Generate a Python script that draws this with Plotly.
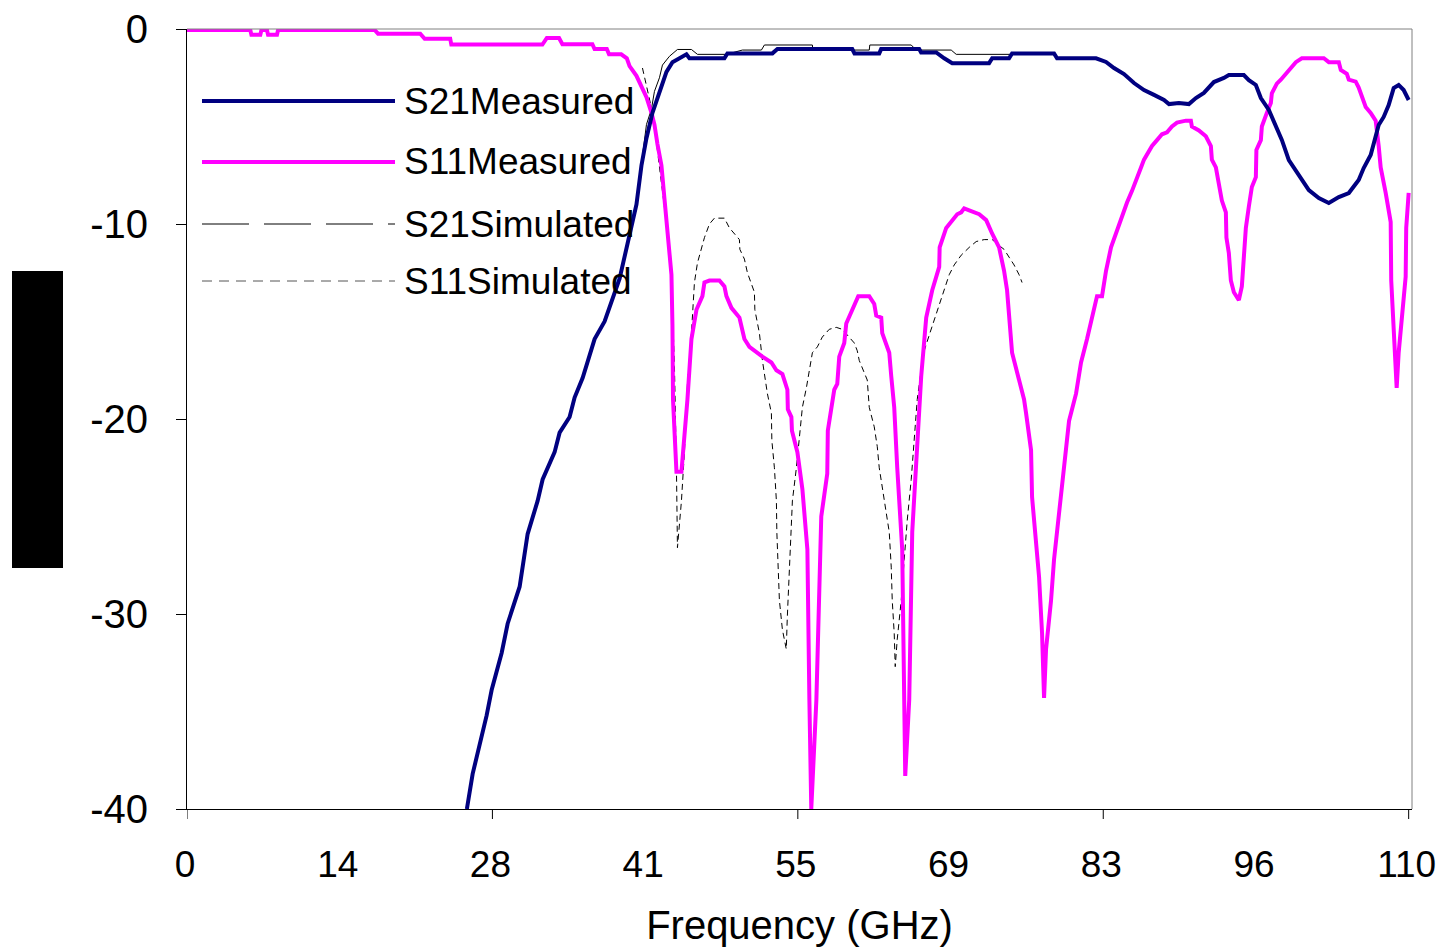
import plotly.graph_objects as go

# ---------------- data ----------------
TICK_LABELS = ["0", "14", "28", "41", "55", "69", "83", "96", "110"]
X_MAX = 110
Y_TICKS = [0, -10, -20, -30, -40]

S21_MEAS_F = [25.2, 25.72, 26.98, 27.43, 28.33, 28.87, 29.95, 30.67, 31.57, 32.02,
              33.10, 33.55, 34.45, 34.90, 35.62, 36.70, 37.60, 38.23, 38.95, 39.67,
              40.47, 40.92, 41.37, 41.91, 42.54, 43.17, 43.71, 44.52, 44.97, 45.24,
              48.39, 48.66, 52.71, 53.16, 59.90, 60.10, 62.33, 62.50, 65.93, 66.10,
              67.46, 68.18, 68.90, 72.22, 72.50, 74.02, 74.29, 78.07, 78.34, 81.85,
              82.75, 83.47, 84.37, 85.27, 86.17, 87.07, 87.97, 88.42, 89.31, 90.21,
              90.84, 91.56, 92.46, 93.36, 93.81, 95.16, 95.61, 96.24, 96.69, 97.41,
              98.04, 98.58, 99.21, 100.11, 101.01, 101.91, 102.81, 103.71, 104.61, 105.50,
              105.95, 106.58, 107.30, 107.75, 108.20, 108.65, 109.10, 109.55, 110.0]
S21_MEAS_DB = [-40.0, -38.2, -35.2, -33.9, -32.0, -30.5, -28.6, -25.9, -24.2, -23.1,
               -21.7, -20.7, -19.9, -18.9, -17.9, -15.9, -15.0, -14.0, -12.8, -11.0,
               -9.0, -7.0, -5.6, -4.3, -3.2, -2.2, -1.7, -1.44, -1.3, -1.5,
               -1.5, -1.25, -1.25, -1.03, -1.03, -1.25, -1.25, -1.03, -1.03, -1.2,
               -1.2, -1.5, -1.75, -1.75, -1.5, -1.5, -1.25, -1.25, -1.5, -1.5,
               -1.69, -2.0, -2.31, -2.77, -3.13, -3.38, -3.64, -3.85, -3.79, -3.85,
               -3.54, -3.28, -2.72, -2.51, -2.36, -2.36, -2.62, -2.87, -3.54, -4.15,
               -5.03, -5.69, -6.72, -7.49, -8.26, -8.67, -8.92, -8.62, -8.41, -7.74,
               -7.13, -6.46, -4.92, -4.51, -3.90, -3.03, -2.87, -3.13, -3.64]

S11_MEAS_F = [0.0, 5.7, 5.8, 6.6, 6.7, 7.2, 7.3, 8.1, 8.2, 16.9,
              17.2, 21.0, 21.4, 23.7, 23.8, 32.0, 32.4, 33.5, 33.8, 36.5,
              36.7, 37.8, 38.0, 39.1, 39.6, 39.85, 40.47, 40.92, 41.37, 41.82,
              42.09, 42.36, 42.72, 42.99, 43.26, 43.62, 43.71, 43.76, 44.07, 44.52,
              45.06, 45.42, 45.87, 46.41, 46.59, 47.04, 47.94, 48.39, 48.57, 49.02,
              49.74, 50.19, 50.64, 51.27, 51.81, 52.62, 53.07, 53.61, 54.06, 54.10,
              54.42, 54.47, 54.96, 55.41, 55.86, 56.04, 56.21, 56.67, 57.11, 57.65,
              57.70, 58.28, 58.55, 58.73, 59.18, 59.36, 59.90, 60.35, 60.44, 61.43,
              61.88, 62.06, 62.51, 62.60, 63.23, 63.41, 63.68, 63.95, 64.40, 64.67,
              65.03, 65.30, 65.75, 66.11, 66.56, 67.10, 67.73, 67.77, 68.36, 68.90,
              69.35, 69.71, 69.98, 70.43, 70.88, 71.33, 71.96, 72.23, 72.50, 73.12,
              73.57, 73.84, 74.02, 74.29, 74.74, 75.37, 75.55, 76.00, 76.09, 76.27,
              76.72, 76.99, 77.17, 77.35, 77.80, 78.07, 78.52, 78.97, 79.42, 80.05,
              80.50, 81.04, 81.40, 81.94, 82.39, 82.75, 83.20, 83.74, 84.19, 84.64,
              85.09, 85.45, 85.90, 86.17, 86.44, 86.89, 87.34, 87.79, 88.24, 88.69,
              89.14, 89.94, 90.39, 90.48, 91.11, 91.74, 92.19, 92.28, 92.64, 92.91,
              93.18, 93.54, 93.59, 93.81, 93.99, 94.26, 94.71, 94.98, 95.16, 95.34,
              95.61, 95.88, 96.24, 96.29, 96.69, 96.78, 97.23, 97.59, 97.68, 98.13,
              98.49, 98.94, 99.48, 99.84, 100.38, 102.36, 102.81, 103.71, 103.89, 104.43,
              104.61, 105.23, 105.50, 105.77, 106.13, 106.58, 107.03, 107.30, 107.48, 107.93,
              108.38, 108.43, 108.65, 108.92, 109.10, 109.37, 109.73, 109.78, 110.0]
S11_MEAS_DB = [-0.05, -0.05, -0.3, -0.3, -0.05, -0.05, -0.3, -0.3, -0.05, -0.05,
               -0.24, -0.24, -0.5, -0.5, -0.8, -0.8, -0.46, -0.46, -0.78, -0.78,
               -1.03, -1.03, -1.3, -1.3, -1.5, -1.9, -2.4, -2.9, -3.5, -4.3,
               -4.9, -5.9, -7.0, -8.7, -10.4, -12.6, -15.2, -19.0, -22.7, -22.7,
               -19.0, -15.9, -14.4, -13.7, -13.0, -12.9, -12.9, -13.2, -13.7, -14.3,
               -14.8, -15.9, -16.3, -16.6, -16.8, -17.1, -17.5, -17.7, -18.5, -19.5,
               -19.9, -20.6, -21.7, -23.6, -26.7, -34.4, -40.0, -34.4, -25.0, -22.8,
               -20.6, -18.5, -18.2, -16.8, -16.1, -15.1, -14.4, -13.9, -13.7, -13.7,
               -14.1, -14.7, -14.8, -15.6, -16.6, -17.8, -19.4, -22.5, -26.7, -38.3,
               -34.4, -25.8, -21.6, -17.8, -14.8, -13.4, -12.2, -11.2, -10.2, -9.8,
               -9.5, -9.4, -9.2, -9.3, -9.4, -9.5, -9.8, -10.2, -10.5, -11.2,
               -12.4, -13.4, -14.9, -16.6, -17.6, -19.0, -19.7, -21.6, -24.0, -25.3,
               -28.1, -31.0, -34.3, -31.8, -29.3, -27.2, -24.7, -22.6, -20.1, -18.7,
               -17.1, -15.9, -15.0, -13.7, -13.7, -12.4, -11.2, -10.3, -9.6, -8.9,
               -8.3, -7.7, -7.1, -6.7, -6.4, -6.0, -5.7, -5.4, -5.3, -5.0,
               -4.8, -4.7, -4.7, -5.0, -5.2, -5.5, -6.0, -6.7, -7.1, -8.1,
               -8.8, -9.4, -10.7, -11.5, -12.9, -13.5, -13.9, -13.2, -11.5, -10.2,
               -9.1, -8.1, -7.6, -6.2, -5.7, -5.0, -4.3, -3.8, -3.3, -2.8,
               -2.6, -2.3, -1.9, -1.7, -1.5, -1.5, -1.7, -1.7, -2.1, -2.3,
               -2.6, -2.7, -3.0, -3.4, -4.0, -4.3, -4.7, -6.0, -7.1, -8.4,
               -9.9, -12.9, -15.8, -18.4, -16.6, -14.9, -12.7, -10.2, -8.4]

S21_SIM_F = [41.01, 41.37, 41.82, 42.09, 42.54, 42.81, 43.44, 44.16, 45.42, 45.96,
             48.57, 50.01, 51.72, 51.99, 56.31, 56.35, 61.43, 61.48, 65.21, 65.66,
             68.81, 69.26, 75.37]
S21_SIM_DB = [-6.5, -4.9, -4.1, -3.2, -2.5, -1.85, -1.4, -1.05, -1.05, -1.3,
              -1.3, -1.08, -1.08, -0.82, -0.82, -1.08, -1.08, -0.82, -0.82, -1.08,
              -1.08, -1.3, -1.3]

S11_SIM_F = [41.01, 41.37, 41.82, 42.18, 42.54, 42.90, 43.26, 43.62, 43.89, 44.07,
             44.16, 44.52, 44.79, 45.06, 45.42, 45.69, 45.96, 46.59, 47.04, 47.49,
             48.39, 48.84, 49.74, 49.78, 50.19, 50.46, 51.09, 51.13, 51.54, 51.81,
             52.26, 52.62, 52.66, 52.89, 53.07, 53.11, 53.34, 53.61, 53.96, 54.05,
             54.42, 54.51, 54.87, 55.32, 55.41, 55.77, 56.04, 56.31, 56.76, 57.20,
             57.83, 58.46, 59.00, 59.63, 60.08, 60.35, 60.53, 61.25, 61.43, 61.88,
             62.15, 62.33, 62.78, 63.23, 63.41, 63.50, 63.68, 63.77, 63.95, 64.31,
             64.58, 64.85, 65.21, 65.48, 65.75, 66.11, 66.38, 66.83, 67.28, 67.73,
             68.18, 68.63, 69.08, 69.71, 70.43, 71.06, 71.78, 72.50, 73.12, 73.57,
             74.02, 74.47, 74.92, 75.19]
S11_SIM_DB = [-2.0, -2.9, -4.05, -5.4, -7.0, -8.8, -10.4, -12.7, -17.3, -22.5,
              -26.6, -24.2, -21.7, -18.2, -15.6, -13.0, -12.0, -10.7, -10.0, -9.7,
              -9.7, -10.2, -10.8, -11.3, -11.8, -12.5, -13.5, -14.4, -15.6, -17.0,
              -18.7, -19.7, -21.1, -22.5, -24.2, -25.8, -29.3, -30.8, -31.8, -30.2,
              -25.8, -24.2, -22.5, -19.9, -19.4, -18.4, -17.6, -16.6, -16.3, -15.8,
              -15.4, -15.3, -15.4, -15.8, -16.1, -16.5, -17.0, -18.0, -19.4, -20.4,
              -21.4, -22.5, -24.2, -25.8, -27.6, -29.3, -31.0, -32.7, -31.3, -29.3,
              -27.2, -25.2, -23.1, -21.1, -19.0, -17.5, -16.5, -15.7, -14.9, -14.2,
              -13.4, -12.6, -12.1, -11.6, -11.2, -10.9, -10.8, -10.8, -11.1, -11.3,
              -11.7, -12.1, -12.6, -13.0]

assert len(S21_MEAS_F) == len(S21_MEAS_DB)
assert len(S11_MEAS_F) == len(S11_MEAS_DB)
assert len(S21_SIM_F) == len(S21_SIM_DB)
assert len(S11_SIM_F) == len(S11_SIM_DB)

SERIES_NAMES = ["S21Measured", "S11Measured", "S21Simulated", "S11Simulated"]

# ---------------- styling ----------------
NAVY = "#000080"
MAGENTA = "#FF00FF"
FONT = "Arial, 'Liberation Sans', sans-serif"

# the page body adds an 8 px margin; the figure is shrunk so it fits the
# 1445x952 window, and the plot area sits at page pixels x 187..1412, y 29..809
PAGE_OFF = 8
WIN_W, WIN_H = 1445, 952
W, H = WIN_W - PAGE_OFF, WIN_H - PAGE_OFF
AREA_L, AREA_R, AREA_T, AREA_B = 187, 1412, 29, 809
L = AREA_L - PAGE_OFF
T = AREA_T - PAGE_OFF
R = W + PAGE_OFF - AREA_R
B = H + PAGE_OFF - AREA_B
PW, PH = AREA_R - AREA_L, AREA_B - AREA_T
X_RANGE = [0, X_MAX + 0.3]   # plot frame sits a few px right of the 110 tick


def px_x(p):
    return (p - AREA_L) / PW


def px_y(p):
    return (AREA_B - p) / PH


fig = go.Figure()
fig.add_trace(go.Scatter(x=S21_SIM_F, y=S21_SIM_DB, mode="lines", name=SERIES_NAMES[2],
                         line=dict(color="black", width=1), showlegend=False))
fig.add_trace(go.Scatter(x=S11_SIM_F, y=S11_SIM_DB, mode="lines", name=SERIES_NAMES[3],
                         line=dict(color="black", width=1, dash="6px,4px"), showlegend=False))
fig.add_trace(go.Scatter(x=S11_MEAS_F, y=S11_MEAS_DB, mode="lines", name=SERIES_NAMES[1],
                         line=dict(color=MAGENTA, width=4), showlegend=False))
fig.add_trace(go.Scatter(x=S21_MEAS_F, y=S21_MEAS_DB, mode="lines", name=SERIES_NAMES[0],
                         line=dict(color=NAVY, width=4), showlegend=False))

tickvals = [X_MAX * i / (len(TICK_LABELS) - 1) for i in range(len(TICK_LABELS))]

fig.update_xaxes(range=X_RANGE, tickvals=tickvals, ticktext=TICK_LABELS,
                 ticks="", showgrid=False, zeroline=False, showline=True,
                 linecolor="black", linewidth=1, ticklabeloverflow="allow",
                 tickfont=dict(family=FONT, size=37, color="black"),
                 ticklabelstandoff=23, ticklabelshift=-2,
                 title=dict(text="Frequency (GHz)", standoff=26,
                            font=dict(family=FONT, size=40, color="black")))
fig.update_yaxes(range=[-40, 0], tickvals=Y_TICKS, ticktext=[str(v) for v in Y_TICKS],
                 ticks="outside", ticklen=10, ticklabeloverflow="allow",
                 tickcolor="black", showgrid=False, zeroline=False, showline=True,
                 linecolor="black", linewidth=1,
                 tickfont=dict(family=FONT, size=40, color="black"),
                 ticklabelstandoff=20)

shapes = []
# tick marks on the x axis (every other label)
for i in range(0, len(tickvals), 2):
    shapes.append(dict(type="line", xref="x", yref="paper", x0=tickvals[i], x1=tickvals[i],
                       y0=0, y1=-10 / PH, line=dict(color="black", width=1)))
# plot-area frame (top and right)
shapes.append(dict(type="line", xref="paper", yref="paper", x0=0, x1=1, y0=1, y1=1,
                   line=dict(color="#808080", width=1)))
shapes.append(dict(type="line", xref="paper", yref="paper", x0=1, x1=1, y0=0, y1=1,
                   line=dict(color="#808080", width=1)))
# redacted y-axis title block
shapes.append(dict(type="rect", xref="paper", yref="paper",
                   x0=px_x(12), x1=px_x(63), y0=px_y(568), y1=px_y(271),
                   fillcolor="black", line=dict(width=0), layer="above"))

# custom legend (long line samples as in the reference)
legend_rows = [
    (SERIES_NAMES[0], 101, dict(color=NAVY, width=4)),
    (SERIES_NAMES[1], 162, dict(color=MAGENTA, width=4)),
    (SERIES_NAMES[2], 224, dict(color="black", width=1, dash="47px,15px")),
    (SERIES_NAMES[3], 281, dict(color="#555555", width=1, dash="10px,7px")),
]
annotations = []
for name, ypx, ln in legend_rows:
    shapes.append(dict(type="line", xref="paper", yref="paper",
                       x0=px_x(202), x1=px_x(395), y0=px_y(ypx), y1=px_y(ypx), line=ln))
    annotations.append(dict(xref="paper", yref="paper", x=px_x(402), y=px_y(ypx),
                            text=name, showarrow=False, xanchor="left", yanchor="middle",
                            font=dict(family=FONT, size=37, color="black")))

fig.update_layout(width=W, height=H, margin=dict(l=L, r=R, t=T, b=B, autoexpand=False),
                  paper_bgcolor="white", plot_bgcolor="white",
                  shapes=shapes, annotations=annotations, showlegend=False)

fig.write_html("out.html")
